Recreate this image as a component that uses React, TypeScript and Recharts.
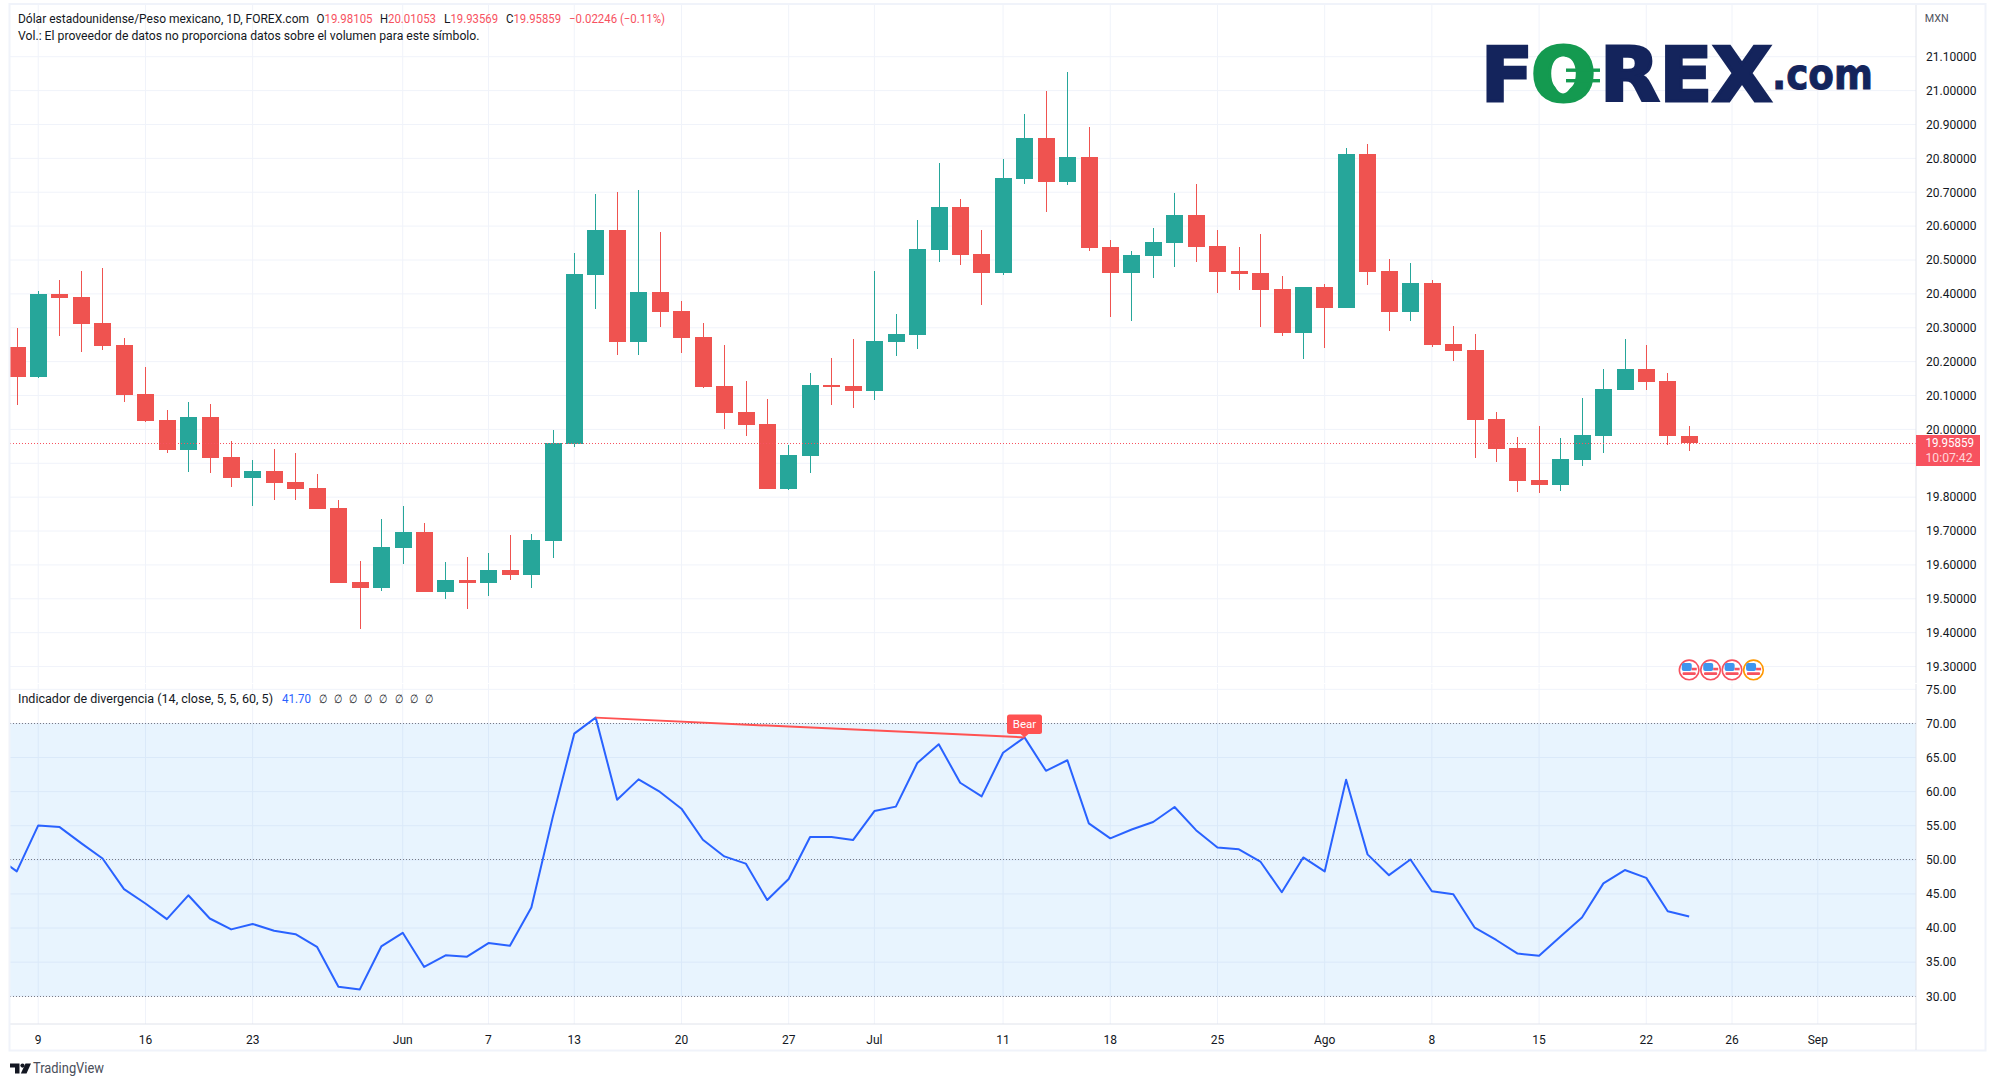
import React from "react";
import {
  ComposedChart,
  Bar,
  Line,
  XAxis,
  YAxis,
  CartesianGrid,
  ReferenceLine,
  ReferenceArea,
  ReferenceDot,
} from "recharts";

const opens = [
  20.244, 20.155, 20.4, 20.391, 20.314, 20.25, 20.105, 20.028, 19.939, 20.037,
  19.918, 19.856, 19.876, 19.844, 19.826, 19.767, 19.55, 19.533, 19.651, 19.696,
  19.521, 19.556, 19.547, 19.586, 19.571, 19.672, 19.957, 20.457, 20.59, 20.258,
  20.406, 20.35, 20.273, 20.128, 20.051, 20.016, 19.825, 19.921, 20.131, 20.128,
  20.113, 20.258, 20.279, 20.53, 20.656, 20.518, 20.462, 20.739, 20.86, 20.73,
  20.804, 20.538, 20.462, 20.512, 20.55, 20.633, 20.541, 20.468, 20.462, 20.414,
  20.285, 20.42, 20.358, 20.813, 20.468, 20.347, 20.432, 20.252, 20.234, 20.031,
  19.945, 19.851, 19.836, 19.91, 19.981, 20.116, 20.178, 20.143, 19.98105,
];
const closes = [
  20.155, 20.4, 20.388, 20.311, 20.247, 20.102, 20.025, 19.939, 20.037, 19.915,
  19.856, 19.876, 19.841, 19.823, 19.764, 19.547, 19.533, 19.654, 19.696, 19.521,
  19.556, 19.547, 19.586, 19.571, 19.675, 19.959, 20.459, 20.59, 20.258, 20.406,
  20.347, 20.27, 20.125, 20.048, 20.013, 19.825, 19.924, 20.131, 20.124, 20.113,
  20.261, 20.282, 20.532, 20.656, 20.515, 20.462, 20.742, 20.86, 20.73, 20.804,
  20.535, 20.462, 20.515, 20.553, 20.633, 20.538, 20.465, 20.459, 20.411, 20.285,
  20.42, 20.358, 20.813, 20.465, 20.347, 20.432, 20.249, 20.231, 20.028, 19.942,
  19.848, 19.836, 19.913, 19.983, 20.119, 20.178, 20.14, 19.981, 19.95859,
];
const highs = [
  20.299, 20.409, 20.442, 20.468, 20.477, 20.27, 20.185, 20.057, 20.081, 20.075,
  19.965, 19.909, 19.942, 19.93, 19.868, 19.791, 19.613, 19.737, 19.773, 19.725,
  19.61, 19.622, 19.636, 19.687, 19.69, 19.998, 20.522, 20.694, 20.7, 20.706,
  20.584, 20.379, 20.314, 20.249, 20.143, 20.09, 19.954, 20.167, 20.211, 20.267,
  20.468, 20.341, 20.618, 20.786, 20.68, 20.589, 20.798, 20.931, 20.999, 21.055,
  20.893, 20.559, 20.527, 20.594, 20.698, 20.724, 20.589, 20.538, 20.577, 20.453,
  20.42, 20.429, 20.831, 20.843, 20.503, 20.491, 20.441, 20.305, 20.282, 20.051,
  19.978, 20.01, 19.975, 20.093, 20.178, 20.267, 20.249, 20.166, 20.01053,
];
const lows = [
  20.072, 20.152, 20.276, 20.229, 20.235, 20.081, 20.022, 19.93, 19.874, 19.871,
  19.829, 19.773, 19.791, 19.791, 19.764, 19.547, 19.411, 19.524, 19.604, 19.521,
  19.5, 19.47, 19.509, 19.556, 19.533, 19.619, 19.948, 20.356, 20.22, 20.22,
  20.302, 20.226, 20.122, 20.001, 19.98, 19.825, 19.822, 19.871, 20.072, 20.063,
  20.087, 20.217, 20.237, 20.494, 20.485, 20.367, 20.456, 20.724, 20.642, 20.721,
  20.527, 20.332, 20.32, 20.447, 20.479, 20.494, 20.403, 20.411, 20.302, 20.276,
  20.208, 20.24, 20.358, 20.426, 20.29, 20.32, 20.243, 20.202, 19.916, 19.904,
  19.815, 19.812, 19.818, 19.892, 19.93, 20.116, 20.116, 19.954, 19.93569,
];
const rsiLeadIn = 50.6;
const rsiValues = [
  48.3, 55.05, 54.8, 52.45, 50.2, 45.7, 43.6, 41.3, 44.8, 41.4,
  39.8, 40.6, 39.6, 39.1, 37.25, 31.4, 31.0, 37.3, 39.3, 34.3,
  36.0, 35.8, 37.8, 37.4, 43.0, 56.3, 68.5, 70.85, 58.8, 61.8,
  59.95, 57.5, 52.95, 50.5, 49.45, 44.1, 47.2, 53.35, 53.35, 52.9,
  57.15, 57.8, 64.2, 66.95, 61.3, 59.3, 65.7, 67.95, 63.05, 64.6,
  55.35, 53.15, 54.45, 55.55, 57.75, 54.35, 51.8, 51.55, 49.75, 45.25,
  50.35, 48.3, 61.75, 50.8, 47.75, 50.05, 45.4, 44.95, 40.05, 38.25,
  36.25, 35.95, 38.75, 41.55, 46.55, 48.5, 47.35, 42.45, 41.7,
];
const bearBars = [27, 47];
const lastPrice = 19.95859;

const timeTickBars = [1, 6, 11, 18, 22, 26, 31, 36, 40, 46, 51, 56, 61, 66, 71, 76, 80, 84];
const timeTickLabels = ["9", "16", "23", "Jun", "7", "13", "20", "27", "Jul", "11", "18", "25", "Ago", "8", "15", "22", "26", "Sep"];
const priceTicks = [19.3, 19.4, 19.5, 19.6, 19.7, 19.8, 19.9, 20.0, 20.1, 20.2, 20.3, 20.4, 20.5, 20.6, 20.7, 20.8, 20.9, 21.0, 21.1];
const coveredPriceTick = 19.9;
const rsiTicks = [30, 35, 40, 45, 50, 55, 60, 65, 70, 75];
const rsiLevels = [70, 50, 30];
const eventBars = [78, 79, 80, 81];
const eventColors = ["#f7525f", "#f7525f", "#f7525f", "#ff9800"];

const candleRows = opens.map((o, i) => ({
  i,
  open: o,
  close: closes[i],
  high: highs[i],
  low: lows[i],
}));
const rsiRows = [
  { i: -1, rsi: rsiLeadIn, bear: null as number | null },
  ...rsiValues.map((v, i) => ({ i, rsi: v, bear: bearBars.includes(i) ? v : null })),
];

const X_DOMAIN: [number, number] = [-0.317, 88.58];
const PRICE_DOMAIN: [number, number] = [19.2515, 21.2556];
const RSI_DOMAIN: [number, number] = [25.93, 75.78];

const UP = "#26a69a";
const DOWN = "#ef5350";
const GRID = "#f0f3fa";
const AXIS = "#e0e3eb";
const TEXT = "#131722";
const FONT = "Roboto, 'Noto Sans', sans-serif";

function Candle(props: any) {
  const { x, y, width, height, payload } = props;
  const { open, close, high, low } = payload;
  const perUnit = height / (high - low);
  const at = (v: number) => y + (high - v) * perUnit;
  const cx = Math.round(x + width / 2);
  const color = close >= open ? UP : DOWN;
  const top = Math.round(at(Math.max(open, close)));
  const bot = Math.round(at(Math.min(open, close)));
  return (
    <g shapeRendering="crispEdges">
      <rect x={cx} y={at(high)} width={1} height={Math.max(height, 0)} fill={color} />
      <rect x={cx - 8} y={top} width={17} height={Math.max(bot - top, 1)} fill={color} />
    </g>
  );
}

function EventBadge(props: any) {
  const { cx, cy, color } = props;
  return (
    <g>
      <circle cx={cx} cy={cy} r={9.8} fill="#fff" stroke={color} strokeWidth={1.6} />
      <rect x={cx - 7.4} y={cy - 7} width={10} height={8} rx={2} fill="#3f95ee" />
      <rect x={cx + 2.6} y={cy - 2.2} width={5} height={2.6} fill="#f7525f" />
      <rect x={cx - 6.6} y={cy + 2.4} width={13.2} height={2.6} rx={1} fill="#f7525f" />
    </g>
  );
}

function BearBadge(props: any) {
  const { cx, cy } = props;
  const top = cy - 23;
  return (
    <g>
      <rect x={cx - 17.5} y={top} width={35} height={19.5} rx={2.5} fill="#ff5252" />
      <path d={`M${cx - 4} ${top + 19.5}L${cx} ${cy}L${cx + 4} ${top + 19.5}Z`} fill="#ff5252" />
      <text x={cx} y={top + 14} textAnchor="middle" fontFamily={FONT} fontSize={11.5} fill="#fff">
        Bear
      </text>
    </g>
  );
}

function T(props: any) {
  const { x, y, w, fill = TEXT, size = 12, children } = props;
  return (
    <text
      x={x}
      y={y}
      fill={fill}
      fontSize={size}
      fontFamily={FONT}
      dominantBaseline="central"
      textLength={w}
      lengthAdjust="spacingAndGlyphs"
    >
      {children}
    </text>
  );
}

const nullGlyphX = [318.8, 334, 348.7, 363.9, 379, 394.7, 409.8, 425];

function Overlay() {
  return (
    <svg
      width={1995}
      height={1086}
      style={{ position: "absolute", left: 0, top: 0, pointerEvents: "none" }}
    >
      {/* frame */}
      <rect x={9.5} y={4} width={1976} height={1046.5} fill="none" stroke={GRID} strokeWidth={2} />
      <line x1={1916} y1={1023} x2={1916} y2={1050} stroke={AXIS} />
      {/* header */}
      <T x={18} y={19} w={291}>Dólar estadounidense/Peso mexicano, 1D, FOREX.com</T>
      <T x={316.5} y={19} w={8}>O</T>
      <T x={324.5} y={19} w={48} fill="#f7525f">19.98105</T>
      <T x={380} y={19} w={8}>H</T>
      <T x={388} y={19} w={48} fill="#f7525f">20.01053</T>
      <T x={444} y={19} w={6.5}>L</T>
      <T x={450.5} y={19} w={47.5} fill="#f7525f">19.93569</T>
      <T x={506} y={19} w={7.5}>C</T>
      <T x={513.5} y={19} w={47.5} fill="#f7525f">19.95859</T>
      <T x={569} y={19} w={96} fill="#f7525f">−0.02246 (−0.11%)</T>
      <T x={18} y={36} w={461.5}>Vol.: El proveedor de datos no proporciona datos sobre el volumen para este símbolo.</T>
      <T x={1924.8} y={18} w={24} size={11} fill="#50535e">MXN</T>
      {/* sub-pane legend */}
      <T x={18} y={699} w={255}>Indicador de divergencia (14, close, 5, 5, 60, 5)</T>
      <T x={282} y={699} w={29} fill="#2962ff">41.70</T>
      {nullGlyphX.map((x) => (
        <T key={x} x={x} y={699} w={8}>∅</T>
      ))}
      {/* last price tag */}
      <rect x={1916} y={435} width={64} height={31} fill="#f7525f" />
      <T x={1925.5} y={443} w={48.5} fill="#ffffff">19.95859</T>
      <T x={1925.5} y={458} w={47} fill="#ffd6da">10:07:42</T>
      {/* logo */}
      <g fontFamily="'DejaVu Sans', sans-serif" fontWeight={700} fontSize={75}>
        <text x={1481} y={100.5} fill="#14245c" stroke="#14245c" strokeWidth={3} textLength={52} lengthAdjust="spacingAndGlyphs">F</text>
        <text x={1531} y={100.5} fill="#149a50" stroke="#149a50" strokeWidth={3} textLength={65} lengthAdjust="spacingAndGlyphs">O</text>
        <ellipse cx={1563} cy={75} rx={10} ry={18.5} fill="#fff" />
        <rect x={1566} y={68.5} width={34} height={3.4} fill="#149a50" />
        <rect x={1566} y={79} width={34} height={3.4} fill="#149a50" />
        <text x={1600} y={100.5} fill="#14245c" stroke="#14245c" strokeWidth={3} textLength={172} lengthAdjust="spacingAndGlyphs">REX</text>
        <text x={1772} y={88.5} fontSize={42} fill="#14245c" stroke="#14245c" strokeWidth={1} textLength={101} lengthAdjust="spacingAndGlyphs">.com</text>
      </g>
      {/* TradingView mark */}
      <g fill="#131722">
        <path d="M10 1063.5H19.5V1073.5H15V1067.5H10Z" />
        <circle cx={22.5} cy={1065.6} r={2.1} />
        <path d="M25.5 1063.5H31L26.5 1073.5H20.8Z" />
      </g>
      <T x={33} y={1068} w={71} size={14} fill="#4a4e5a">TradingView</T>
    </svg>
  );
}

export default function App() {
  return (
    <div style={{ position: "absolute", left: 0, top: 0, width: 1995, height: 1086, background: "#fff", overflow: "hidden" }}>
      <div style={{ position: "absolute", left: 0, top: 0 }}>
        <ComposedChart
          width={1995}
          height={684}
          data={candleRows}
          margin={{ top: 4, right: 10, bottom: 1, left: 10 }}
        >
          <CartesianGrid stroke={GRID} horizontalValues={priceTicks} verticalValues={timeTickBars} />
          <XAxis type="number" dataKey="i" domain={X_DOMAIN} allowDataOverflow hide />
          <YAxis
            orientation="right"
            width={69}
            domain={PRICE_DOMAIN}
            allowDataOverflow
            ticks={priceTicks}
            interval={0}
            tickFormatter={(v: number) => (v === coveredPriceTick ? "" : v.toFixed(5))}
            tick={{ fill: TEXT, fontSize: 12, fontFamily: FONT }}
            tickLine={false}
            tickMargin={4}
            axisLine={{ stroke: AXIS }}
          />
          <ReferenceLine y={lastPrice} stroke="#f7525f" strokeDasharray="1 2" shapeRendering="crispEdges" />
          <Bar
            dataKey={(d: any) => [d.low, d.high]}
            barSize={17}
            shape={<Candle />}
            isAnimationActive={false}
          />
          {eventBars.map((b, k) => (
            <ReferenceDot
              key={b}
              x={b}
              y={19.29}
              r={10}
              shape={(p: any) => <EventBadge cx={p.cx} cy={p.cy} color={eventColors[k]} />}
            />
          ))}
        </ComposedChart>
      </div>
      <div style={{ position: "absolute", left: 0, top: 683 }}>
        <ComposedChart
          width={1995}
          height={368}
          data={rsiRows}
          margin={{ top: 1, right: 10, bottom: 0, left: 10 }}
        >
          <CartesianGrid stroke={GRID} horizontalValues={rsiTicks} verticalValues={timeTickBars} />
          <ReferenceArea y1={30} y2={70} fill="#2196f3" fillOpacity={0.1} stroke="none" />
          <XAxis
            type="number"
            dataKey="i"
            domain={X_DOMAIN}
            allowDataOverflow
            ticks={timeTickBars}
            interval={0}
            height={27}
            tickFormatter={(v: number) => timeTickLabels[timeTickBars.indexOf(v)]}
            tick={{ fill: TEXT, fontSize: 12, fontFamily: FONT }}
            tickLine={false}
            tickMargin={5}
            axisLine={{ stroke: AXIS }}
          />
          <YAxis
            orientation="right"
            width={69}
            domain={RSI_DOMAIN}
            allowDataOverflow
            ticks={rsiTicks}
            interval={0}
            tickFormatter={(v: number) => v.toFixed(2)}
            tick={{ fill: TEXT, fontSize: 12, fontFamily: FONT }}
            tickLine={false}
            tickMargin={4}
            axisLine={{ stroke: AXIS }}
          />
          {rsiLevels.map((v) => (
            <ReferenceLine key={v} y={v} stroke="#787b86" strokeDasharray="1 2" shapeRendering="crispEdges" />
          ))}
          <Line
            dataKey="rsi"
            stroke="#2962ff"
            strokeWidth={2}
            dot={false}
            activeDot={false}
            strokeLinejoin="round"
            isAnimationActive={false}
          />
          <Line
            dataKey="bear"
            stroke="#ff5252"
            strokeWidth={2}
            dot={false}
            activeDot={false}
            connectNulls
            isAnimationActive={false}
          />
          <ReferenceDot
            x={bearBars[1]}
            y={rsiValues[bearBars[1]]}
            r={10}
            shape={(p: any) => <BearBadge cx={p.cx} cy={p.cy} />}
          />
        </ComposedChart>
      </div>
      <Overlay />
    </div>
  );
}
